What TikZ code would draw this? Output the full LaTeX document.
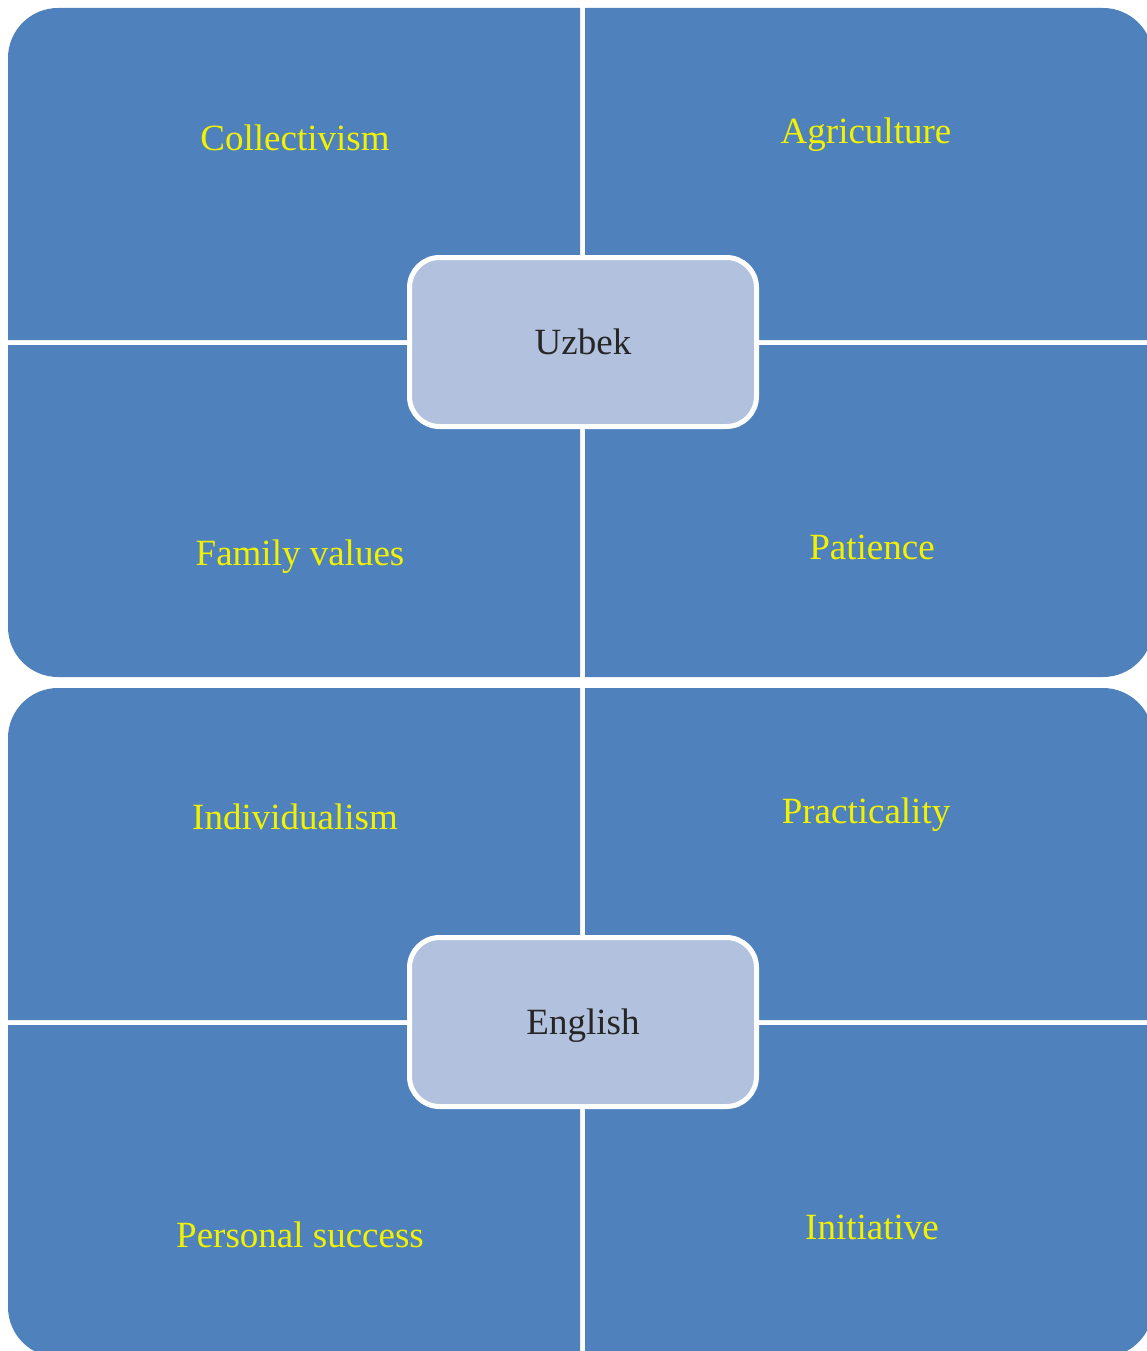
\documentclass[tikz,border=0pt]{standalone}
\usepackage{fontspec}
\setmainfont{Liberation Serif}
\usetikzlibrary{positioning}

\definecolor{quadblue}{HTML}{4F81BD}
\definecolor{hubblue}{HTML}{B2C1DD}
\definecolor{labelyellow}{HTML}{F2F200}

\begin{document}
\begin{tikzpicture}[
    x=1pt, y=-1pt,
    quad/.style={fill=quadblue},
    label/.style={text=labelyellow, font=\fontsize{37}{44}\selectfont},
    hub/.style={draw=white, line width=5pt, fill=hubblue, rectangle, rounded corners=30pt, minimum width=347pt, minimum height=169pt, text depth=0pt, font=\fontsize{37}{44}\selectfont, text=black!85}
]
\useasboundingbox (0,0) rectangle (1147,1351);

% Uzbek panel
\fill[quad] (580,340) -- (8,340) [rounded corners=50pt] -- (8,8) [sharp corners] -- (580,8) -- cycle;
\fill[quad] (585,340) -- (585,8) [rounded corners=50pt] -- (1153,8) [sharp corners] -- (1153,340) -- cycle;
\fill[quad] (580,345) -- (8,345) [rounded corners=50pt] -- (8,677) [sharp corners] -- (580,677) -- cycle;
\fill[quad] (585,345) -- (585,677) [rounded corners=50pt] -- (1153,677) [sharp corners] -- (1153,345) -- cycle;

\node[label] (collect) at (295,138) {Collectivism};
\node[label] (agri) at (866,135) {Agriculture};
\node[label] (family) at (300,557) {Family values};
\node[label] (patience) at (872,547) {Patience};
\node[hub] (uzbek) at (583,342) {Uzbek};

% English panel
\fill[quad] (580,1020) -- (8,1020) [rounded corners=50pt] -- (8,688) [sharp corners] -- (580,688) -- cycle;
\fill[quad] (585,1020) -- (585,688) [rounded corners=50pt] -- (1153,688) [sharp corners] -- (1153,1020) -- cycle;
\fill[quad] (580,1025) -- (8,1025) [rounded corners=50pt] -- (8,1357) [sharp corners] -- (580,1357) -- cycle;
\fill[quad] (585,1025) -- (585,1357) [rounded corners=50pt] -- (1153,1357) [sharp corners] -- (1153,1025) -- cycle;

\node[label] (indiv) at (295,817) {Individualism};
\node[label] (practical) at (866,815) {Practicality};
\node[label] (success) at (300,1235) {Personal success};
\node[label] (initiative) at (872,1227) {Initiative};
\node[hub] (english) at (583,1022) {English};
\end{tikzpicture}
\end{document}
